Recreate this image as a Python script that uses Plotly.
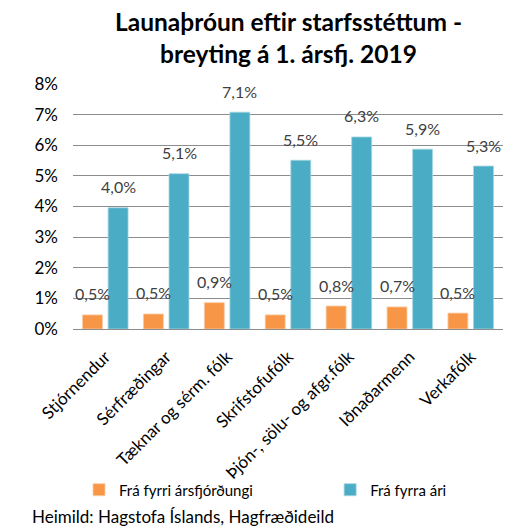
import plotly.graph_objects as go

categories = ["Stjórnendur", "Sérfræðingar", "Tæknar og sérm. fólk", "Skrifstofufólk",
              "Þjón-, sölu- og afgr.fólk", "Iðnaðarmenn", "Verkafólk"]
fra_fyrri_arsfj = [0.46, 0.49, 0.86, 0.46, 0.75, 0.72, 0.52]
fra_fyrri_arsfj_labels = ["0,5%", "0,5%", "0,9%", "0,5%", "0,8%", "0,7%", "0,5%"]
fra_fyrra_ari = [3.96, 5.07, 7.08, 5.51, 6.27, 5.87, 5.32]
fra_fyrra_ari_labels = ["4,0%", "5,1%", "7,1%", "5,5%", "6,3%", "5,9%", "5,3%"]
y_ticks = [0, 1, 2, 3, 4, 5, 6, 7, 8]
y_ticklabels = [f"{v}%" for v in y_ticks]

FONT = "Lato, 'Open Sans', sans-serif"
ORANGE = "#F79646"
BLUE = "#4BACC6"

fig = go.Figure()
fig.add_trace(go.Bar(name="Frá fyrri ársfjórðungi", x=categories, y=fra_fyrri_arsfj,
                     legend="legend",
                     marker=dict(color=ORANGE, line=dict(color="#FBCBA3", width=0.8))))
fig.add_trace(go.Bar(name="Frá fyrra ári", x=categories, y=fra_fyrra_ari,
                     legend="legend2",
                     marker=dict(color=BLUE, line=dict(color="#A5D5E2", width=0.8))))

for cat, v, t in zip(categories, fra_fyrri_arsfj, fra_fyrri_arsfj_labels):
    fig.add_annotation(x=cat, y=v, text=t, showarrow=False, xshift=-12.8, yshift=21,
                       font=dict(family=FONT, size=16, color="#404040"))
for cat, v, t in zip(categories, fra_fyrra_ari, fra_fyrra_ari_labels):
    fig.add_annotation(x=cat, y=v, text=t, showarrow=False, xshift=12.8, yshift=21,
                       font=dict(family=FONT, size=16, color="#404040"))

fig.add_annotation(text="<b>Launaþróun eftir starfsstéttum -<br>breyting á 1. ársfj. 2019</b>",
                   xref="paper", yref="paper", x=0.5, y=1.19, xanchor="center", yanchor="middle",
                   showarrow=False, font=dict(family=FONT, size=24.5, color="#000000"))
fig.add_annotation(text="Heimild: Hagstofa Íslands, Hagfræðideild", xref="paper", yref="paper",
                   x=-0.1, y=-0.767, xanchor="left", yanchor="middle", showarrow=False,
                   font=dict(family=FONT, size=17, color="#000000"))

fig.update_layout(
    width=514, height=528,
    margin=dict(l=73, r=11, t=84, b=199, autoexpand=False),
    paper_bgcolor="white", plot_bgcolor="white",
    barmode="group", bargap=0.16, bargroupgap=0.22,
    font=dict(family=FONT, size=16, color="#000000"),
    showlegend=True,
    legend=dict(orientation="h", x=0.014, xanchor="left", y=-0.657, yanchor="middle",
                bgcolor="rgba(0,0,0,0)",
                font=dict(family=FONT, size=15, color="#000000"), itemwidth=30),
    legend2=dict(orientation="h", x=0.598, xanchor="left", y=-0.657, yanchor="middle",
                 bgcolor="rgba(0,0,0,0)",
                 font=dict(family=FONT, size=15, color="#000000"), itemwidth=30),
)
fig.update_yaxes(range=[0, 8], tickvals=y_ticks, ticktext=y_ticklabels, automargin=False,
                 showgrid=True, gridcolor="#8C8C8C", gridwidth=1.3, zeroline=False,
                 showline=False, ticks="", ticklabelstandoff=14,
                 tickfont=dict(family=FONT, size=17, color="#000000"))
fig.update_xaxes(tickangle=-45, showline=True, linecolor="#8C8C8C", linewidth=1.3,
                 ticks="", automargin=False, ticklabelstandoff=10,
                 tickfont=dict(family=FONT, size=17, color="#000000"))

fig.write_html("out.html", post_script="document.body.style.margin='0';",
               config={"displayModeBar": False})
